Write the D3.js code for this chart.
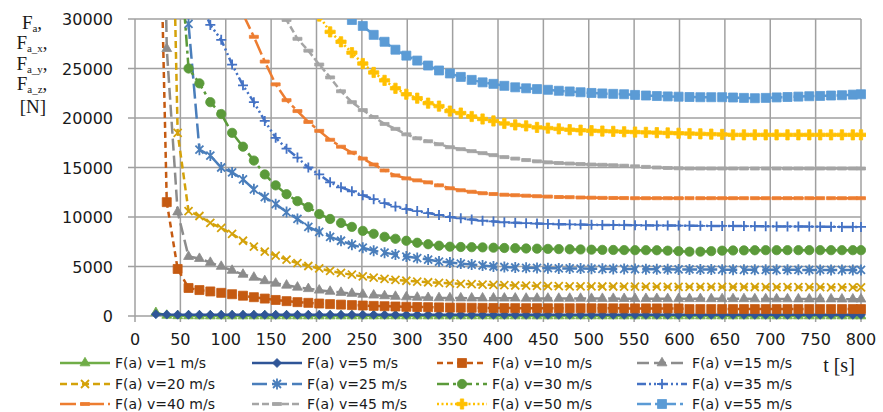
<!DOCTYPE html>
<html>
<head>
<meta charset="utf-8">
<script src="https://cdn.jsdelivr.net/npm/d3@7"></script>
<style>
  body { margin: 0; background: #fff; }
</style>
</head>
<body>
<svg id="chart" width="883" height="412"></svg>
<script>
// time grid [s]
const times = [23, 35, 47, 59, 71, 83, 95, 107, 119, 131,
  143, 155, 167, 179, 191, 203, 215, 227, 239, 251,
  263, 275, 287, 299, 311, 323, 335, 347, 359, 371,
  383, 395, 407, 419, 431, 443, 455, 467, 479, 491,
  503, 515, 527, 539, 551, 563, 575, 587, 599, 611,
  623, 635, 647, 659, 671, 683, 695, 707, 719, 731,
  743, 755, 767, 779, 791, 800]

const v1 = [330, 60, 20, 10, 0, 0, 0, 0, 0, 0,
  0, 0, 0, 0, 0, 0, 0, 0, 0, 0,
  0, 0, 0, 0, 0, 0, 0, 0, 0, 0,
  0, 0, 0, 0, 0, 0, 0, 0, 0, 0,
  0, 0, 0, 0, 0, 0, 0, 0, 0, 0,
  0, 0, 0, 0, 0, 0, 0, 0, 0, 0,
  0, 0, 0, 0, 0, 0]
const v5 = [180, 140, 130, 125, 125, 120, 120, 120, 120, 120,
  120, 120, 120, 120, 120, 120, 120, 120, 120, 120,
  120, 120, 120, 120, 120, 120, 120, 120, 120, 120,
  120, 120, 120, 120, 120, 120, 120, 120, 120, 120,
  120, 120, 120, 120, 120, 120, 120, 120, 120, 120,
  120, 120, 120, 120, 120, 120, 120, 120, 120, 120,
  120, 120, 120, 120, 120, 120]
const v10 = [60000, 11500, 4750, 2830, 2620, 2480, 2340, 2200, 2050, 1900,
  1760, 1620, 1500, 1400, 1330, 1260, 1200, 1150, 1100, 1060,
  1020, 990, 960, 930, 910, 890, 870, 850, 840, 830,
  820, 810, 800, 795, 790, 790, 785, 785, 780, 780,
  780, 775, 775, 770, 770, 770, 765, 765, 760, 700,
  700, 700, 700, 700, 700, 700, 700, 700, 700, 700,
  700, 700, 700, 700, 700, 700]
const v15 = [90000, 27000, 10500, 6000, 5800, 5400, 5000, 4600, 4200, 3900,
  3550, 3300, 3100, 2900, 2750, 2600, 2480, 2370, 2270, 2180,
  2100, 2030, 1970, 1920, 1880, 1850, 1830, 1820, 1810, 1800,
  1800, 1800, 1790, 1790, 1780, 1780, 1780, 1770, 1770, 1770,
  1760, 1760, 1760, 1750, 1750, 1750, 1750, 1740, 1740, 1740,
  1740, 1730, 1730, 1730, 1730, 1720, 1720, 1720, 1720, 1710,
  1710, 1710, 1710, 1700, 1700, 1700]
const v20 = [null, 70000, 18500, 10600, 10100, 9400, 8900, 8300, 7600, 7000,
  6500, 6100, 5700, 5350, 5050, 4800, 4550, 4350, 4170, 4000,
  3870, 3750, 3650, 3560, 3480, 3410, 3350, 3300, 3250, 3210,
  3170, 3140, 3110, 3080, 3060, 3040, 3020, 3010, 3000, 2990,
  2990, 2980, 2980, 2970, 2970, 2960, 2960, 2950, 2950, 2950,
  2940, 2940, 2940, 2930, 2930, 2930, 2920, 2920, 2920, 2910,
  2910, 2910, 2900, 2900, 2900, 2900]
const v25 = [null, null, 80000, 29500, 16800, 16200, 15000, 14500, 13800, 12800,
  12000, 11300, 10500, 9800, 9000, 8500, 8000, 7600, 7200, 6900,
  6600, 6400, 6200, 6000, 5850, 5700, 5500, 5400, 5300, 5200,
  5100, 5000, 4950, 4900, 4870, 4850, 4830, 4810, 4800, 4790,
  4780, 4770, 4760, 4750, 4740, 4730, 4720, 4710, 4700, 4700,
  4690, 4690, 4680, 4680, 4670, 4670, 4670, 4660, 4660, 4660,
  4650, 4650, 4650, 4650, 4650, 4650]
const v30 = [null, null, 40000, 25000, 23500, 21600, 20400, 18500, 17100, 15700,
  14300, 13200, 12300, 11600, 11000, 10300, 9800, 9400, 9000, 8600,
  8300, 8000, 7800, 7600, 7400, 7250, 7100, 7000, 6970, 6950,
  6930, 6900, 6870, 6850, 6820, 6800, 6780, 6760, 6740, 6720,
  6700, 6680, 6670, 6660, 6650, 6650, 6640, 6600, 6550, 6500,
  6500, 6550, 6600, 6620, 6630, 6640, 6650, 6650, 6650, 6650,
  6650, 6650, 6650, 6650, 6650, 6650]
const v35 = [null, null, null, null, 32000, 29400, 27900, 25400, 23300, 21600,
  19700, 18000, 16900, 16000, 15000, 14300, 13500, 13000, 12600, 12200,
  11800, 11400, 11050, 10800, 10600, 10400, 10200, 10000, 9870, 9750,
  9620, 9550, 9470, 9420, 9380, 9340, 9300, 9270, 9250, 9230,
  9210, 9200, 9190, 9180, 9170, 9160, 9150, 9140, 9130, 9120,
  9110, 9100, 9100, 9090, 9080, 9070, 9060, 9050, 9050, 9040,
  9030, 9020, 9010, 9000, 9000, 9000]
const v40 = [null, null, null, null, null, null, null, 36000, 30500, 28200,
  25700, 23400, 21800, 20700, 19600, 18700, 17800, 17100, 16500, 15900,
  15300, 14700, 14200, 13900, 13700, 13500, 13200, 12900, 12700, 12550,
  12400, 12320, 12250, 12200, 12150, 12100, 12060, 12020, 12000, 11970,
  11950, 11930, 11920, 11910, 11900, 11900, 11900, 11900, 11900, 11900,
  11900, 11900, 11900, 11900, 11900, 11900, 11900, 11900, 11900, 11900,
  11900, 11900, 11900, 11900, 11900, 11900]
const v45 = [null, null, null, null, null, null, null, null, null, null,
  null, 33000, 29900, 28000, 26800, 25400, 24100, 22700, 21600, 20800,
  20100, 19400, 18900, 18350, 17950, 17650, 17350, 17050, 16850, 16650,
  16450, 16250, 16050, 15900, 15750, 15620, 15520, 15450, 15400, 15350,
  15300, 15270, 15230, 15180, 15120, 15060, 15000, 14950, 14920, 14900,
  14900, 14900, 14900, 14900, 14900, 14900, 14900, 14900, 14900, 14900,
  14900, 14900, 14900, 14900, 14900, 14900]
const v50 = [null, null, null, null, null, null, null, null, null, null,
  null, null, null, null, 32500, 30300, 28700, 27700, 26600, 25500,
  24600, 23800, 23000, 22400, 22000, 21500, 21200, 20700, 20500, 20150,
  19900, 19700, 19450, 19300, 19200, 19050, 18980, 18900, 18820, 18770,
  18720, 18680, 18650, 18610, 18580, 18550, 18520, 18490, 18460, 18430,
  18400, 18370, 18340, 18300, 18300, 18300, 18300, 18300, 18300, 18300,
  18300, 18300, 18300, 18300, 18300, 18300]
const v55 = [null, null, null, null, null, null, null, null, null, null,
  null, null, null, null, null, null, null, 34000, 29900, 29300,
  28400, 27700, 26900, 26300, 25800, 25300, 24800, 24500, 24150, 23850,
  23600, 23450, 23250, 23100, 23000, 22920, 22850, 22750, 22680, 22600,
  22530, 22480, 22440, 22400, 22330, 22270, 22220, 22180, 22150, 22120,
  22100, 22100, 22100, 22070, 22030, 22000, 22030, 22080, 22120, 22160,
  22200, 22230, 22270, 22300, 22360, 22400]

const seriesNames = ["F(a) v=1 m/s", "F(a) v=5 m/s", "F(a) v=10 m/s", "F(a) v=15 m/s",
  "F(a) v=20 m/s", "F(a) v=25 m/s", "F(a) v=30 m/s", "F(a) v=35 m/s",
  "F(a) v=40 m/s", "F(a) v=45 m/s", "F(a) v=50 m/s", "F(a) v=55 m/s"]
const seriesValues = [v1, v5, v10, v15, v20, v25, v30, v35, v40, v45, v50, v55]
const xTicks = [0, 50, 100, 150, 200, 250, 300, 350, 400, 450, 500, 550, 600, 650, 700, 750, 800]
const yTicks = [0, 5000, 10000, 15000, 20000, 25000, 30000]

// look of each series
const colors = ["#70AD47", "#2F5597", "#C55A11", "#8C8C8C", "#D4A20A", "#4A7EBB",
  "#5B9A3A", "#4472C4", "#ED7D31", "#A5A5A5", "#FFC000", "#5B9BD5"]
const dashes = [null, null, "6,4", "12,5", "7,4", "15,5", "12,4,3,4", "9,3,2,3,2,3",
  "16,4,4,4", "7,3", "2,2.5", "14,4,3,4"]
const markers = ["triangle", "diamond", "square", "triangle", "x", "star", "circle", "plus",
  "dash", "dash", "cross", "square"]

const svg = d3.select("#chart")
const plotLeft = 135, plotRight = 861, plotTop = 19, plotBottom = 316

const x = d3.scaleLinear().domain([0, 800]).range([plotLeft, plotRight])
const y = d3.scaleLinear().domain([0, 30000]).range([plotBottom, plotTop])

const gridColor = "#A0A0A0"
const sans = "'DejaVu Sans', Verdana, sans-serif"
const serif = "'Liberation Serif', 'Times New Roman', serif"

// grid
svg.append("g")
  .selectAll("line")
  .data(yTicks)
  .join("line")
    .attr("x1", plotLeft - 7)
    .attr("x2", plotRight)
    .attr("y1", d => y(d))
    .attr("y2", d => y(d))
    .attr("stroke", gridColor)
    .attr("stroke-width", 1.5)

svg.append("g")
  .selectAll("line")
  .data(xTicks)
  .join("line")
    .attr("x1", d => x(d))
    .attr("x2", d => x(d))
    .attr("y1", plotTop)
    .attr("y2", plotBottom + 6)
    .attr("stroke", gridColor)
    .attr("stroke-width", 1.5)

// tick labels
svg.append("g")
  .selectAll("text")
  .data(yTicks)
  .join("text")
    .attr("x", 113)
    .attr("y", d => y(d) + 6)
    .attr("text-anchor", "end")
    .style("font-family", sans)
    .style("font-size", "16px")
    .attr("fill", "#1a1a1a")
    .text(d => d)

svg.append("g")
  .selectAll("text")
  .data(xTicks)
  .join("text")
    .attr("x", d => x(d))
    .attr("y", 345)
    .attr("text-anchor", "middle")
    .style("font-family", sans)
    .style("font-size", "16px")
    .attr("fill", "#1a1a1a")
    .text(d => d)

// y title
const yTitle = [["a", ","], ["a_x", ","], ["a_y", ","], ["a_z", ","]]
const titleY = [29, 49, 70, 90]
yTitle.forEach((p, i) => {
  let t = svg.append("text")
    .attr("x", 32)
    .attr("y", titleY[i])
    .attr("text-anchor", "middle")
    .style("font-family", serif)
    .style("font-size", "19px")
    .attr("fill", "#1a1a1a")
  t.append("tspan").text("F")
  t.append("tspan").attr("dy", 3).style("font-size", "11px").text(p[0])
  t.append("tspan").attr("dy", -3).text(p[1])
})
svg.append("text")
  .attr("x", 33)
  .attr("y", 113)
  .attr("text-anchor", "middle")
  .style("font-family", serif)
  .style("font-size", "19px")
  .attr("fill", "#1a1a1a")
  .text("[N]")

svg.append("text")
  .attr("x", 839)
  .attr("y", 372)
  .attr("text-anchor", "middle")
  .style("font-family", serif)
  .style("font-size", "20px")
  .style("white-space", "pre")
  .attr("fill", "#1a1a1a")
  .text("t [s]")

// marker shapes
function markerPath(type) {
  if (type == "triangle") return d3.symbol(d3.symbolTriangle, 42)()
  if (type == "circle") return d3.symbol(d3.symbolCircle, 68)()
  if (type == "cross") return d3.symbol(d3.symbolCross, 58)()
  if (type == "diamond") return "M0,-4.5L4.5,0L0,4.5L-4.5,0Z"
  if (type == "square") return "M-4.5,-4.5h9v9h-9Z"
  if (type == "dash") return "M-4.5,-1.5h9v3h-9Z"
  if (type == "x") return "M-4,-4L4,4M-4,4L4,-4"
  if (type == "star") return "M-4,-4L4,4M-4,4L4,-4M0,-5.5V5.5"
  if (type == "plus") return "M-5,0H5M0,-5V5"
}
const strokedMarker = t => t == "x" || t == "star" || t == "plus"

function drawMarker(g, type, color, cx, cy) {
  g.append("path")
    .attr("d", markerPath(type))
    .attr("transform", `translate(${cx},${cy})`)
    .attr("fill", strokedMarker(type) ? "none" : color)
    .attr("stroke", color)
    .attr("stroke-width", strokedMarker(type) ? 1.8 : 0.8)
}

// series
svg.append("clipPath")
  .attr("id", "plotClip")
  .append("rect")
    .attr("x", plotLeft - 5)
    .attr("y", plotTop)
    .attr("width", plotRight - plotLeft + 10)
    .attr("height", plotBottom - plotTop + 8)

const plot = svg.append("g").attr("clip-path", "url(#plotClip)")

const line = d3.line()
  .defined(d => d.v != null)
  .x(d => x(d.t))
  .y(d => y(d.v))

seriesValues.forEach((vals, i) => {
  let pts = times.map((t, k) => ({ t: t, v: vals[k] }))
  let g = plot.append("g")
  g.append("path")
    .datum(pts)
    .attr("d", line)
    .attr("fill", "none")
    .attr("stroke", colors[i])
    .attr("stroke-width", 2.5)
    .attr("stroke-dasharray", dashes[i])
  pts.filter(d => d.v != null && d.v <= 30500).forEach(d => {
    drawMarker(g, markers[i], colors[i], x(d.t), y(d.v))
  })
})

// legend
const legendCols = [60, 252, 437, 637]
const legendRows = [363, 384, 404]
seriesNames.forEach((name, i) => {
  let lx = legendCols[i % 4], ly = legendRows[Math.floor(i / 4)]
  let g = svg.append("g")
  g.append("line")
    .attr("x1", lx).attr("x2", lx + 50)
    .attr("y1", ly).attr("y2", ly)
    .attr("stroke", colors[i])
    .attr("stroke-width", 2.5)
    .attr("stroke-dasharray", dashes[i])
  drawMarker(g, markers[i], colors[i], lx + 25, ly)
  g.append("text")
    .attr("x", lx + 55)
    .attr("y", ly + 4.5)
    .style("font-family", sans)
    .style("font-size", "14px")
    .attr("fill", "#1a1a1a")
    .text(name)
})
</script>
</body>
</html>
